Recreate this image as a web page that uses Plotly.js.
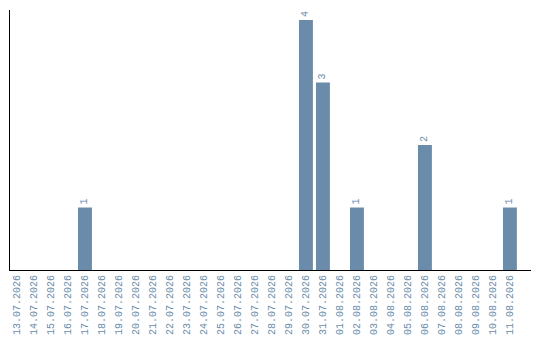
<!DOCTYPE html>
<html>
<head>
<meta charset="utf-8">
<script src="https://cdn.plot.ly/plotly-3.0.1.min.js"></script>
<style>
  html, body { margin: 0; padding: 0; background: #fff; }
  #chart { width: 540px; height: 340px; }
</style>
</head>
<body>
<div id="chart"></div>
<script>
// Daily counts, 13.07.2026 – 11.08.2026
const days = [
  "13.07.2026", "14.07.2026", "15.07.2026", "16.07.2026", "17.07.2026",
  "18.07.2026", "19.07.2026", "20.07.2026", "21.07.2026", "22.07.2026",
  "23.07.2026", "24.07.2026", "25.07.2026", "26.07.2026", "27.07.2026",
  "28.07.2026", "29.07.2026", "30.07.2026", "31.07.2026", "01.08.2026",
  "02.08.2026", "03.08.2026", "04.08.2026", "05.08.2026", "06.08.2026",
  "07.08.2026", "08.08.2026", "09.08.2026", "10.08.2026", "11.08.2026"
];
const counts = [
  0, 0, 0, 0, 1,
  0, 0, 0, 0, 0,
  0, 0, 0, 0, 0,
  0, 0, 4, 3, 0,
  1, 0, 0, 0, 2,
  0, 0, 0, 0, 1
];

const barColor = "#6a8caa";
const labelFont = { family: "Liberation Mono, monospace", size: 10, color: "#6a8caa" };

const trace = {
  type: "bar",
  x: days,
  y: counts,
  marker: { color: barColor },
  text: counts.map(v => v > 0 ? String(v) : ""),
  textposition: "outside",
  textangle: -90,
  textfont: labelFont,
  cliponaxis: false,
  hoverinfo: "none"
};

const layout = {
  width: 540,
  height: 340,
  margin: { l: 10, r: 9, t: 10, b: 70 },
  paper_bgcolor: "#fff",
  plot_bgcolor: "#fff",
  bargap: 0.18,
  showlegend: false,
  xaxis: {
    type: "category",
    range: [-0.41, 30.24],
    showline: true,
    linecolor: "#000",
    linewidth: 1,
    showgrid: false,
    zeroline: false,
    ticks: "",
    tickangle: -90,
    tickfont: labelFont,
    automargin: false
  },
  yaxis: {
    range: [0, 4.16],
    showline: true,
    linecolor: "#000",
    linewidth: 1,
    showgrid: false,
    zeroline: false,
    showticklabels: false,
    ticks: "",
    automargin: false
  }
};

Plotly.newPlot("chart", [trace], layout, { staticPlot: true, displayModeBar: false });
</script>
</body>
</html>
